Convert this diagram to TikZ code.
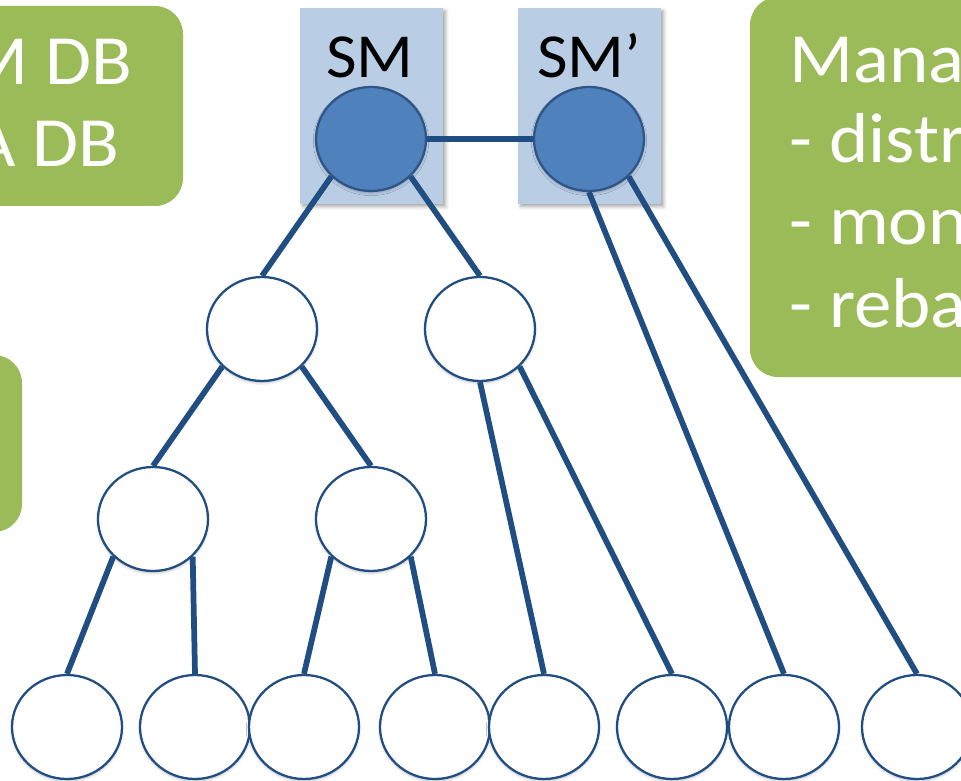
\documentclass[tikz,border=0pt]{standalone}
\usepackage{fontspec}
\setmainfont{Carlito}[FakeStretch=1.06]
\usetikzlibrary{shapes.geometric,shadows.blur}

\definecolor{boxgreen}{HTML}{9BBB59}
\definecolor{smblue}{HTML}{B9CDE5}
\definecolor{nodefill}{HTML}{4F81BD}
\definecolor{nodeline}{HTML}{2F5486}
\definecolor{edgecol}{HTML}{214E82}

\begin{document}
\begin{tikzpicture}[x=0.75pt,y=-0.75pt,
  note/.style={fill=boxgreen, rounded corners=21pt},
  smbox/.style={fill=smblue, blur shadow={shadow xshift=2pt, shadow yshift=-2pt,
      shadow blur radius=2.5pt, shadow opacity=35}},
  treenode/.style={ellipse, minimum width=82.5pt, minimum height=78pt, inner sep=0pt,
      draw=edgecol, line width=1.7pt, fill=white,
      blur shadow={shadow xshift=0pt, shadow yshift=-1.5pt, shadow blur radius=2pt,
      shadow opacity=25}},
  master/.style={treenode, fill=nodefill, draw=nodeline},
  edge/.style={draw=edgecol, line width=4.3pt},
  bigtext/.style={font=\fontsize{53}{60}\selectfont, text=white, inner sep=0pt},
  smtext/.style={font=\fontsize{47}{54}\selectfont, inner sep=0pt}
]
\useasboundingbox (0,0) rectangle (961,781);
\clip (0,0) rectangle (961,781);

% green note boxes
\fill[note] (-60,6) rectangle (183,206);
\fill[note] (-60,355) rectangle (22,532);
\fill[note] (750,-3) rectangle (1020,377);

\node[bigtext, anchor=base east] (ldb1) at (133,85) {M DB};
\node[bigtext, anchor=base east] (ldb2) at (120,167) {A DB};

\node[bigtext, anchor=base west] (r1) at (789,83) {Mana};
\node[bigtext, anchor=base west] (r2) at (789,163) {- distr};
\node[bigtext, anchor=base west] (r3) at (789,245) {- mon};
\node[bigtext, anchor=base west] (r4) at (789,327) {- reba};

% shard-master boxes
\fill[smbox] (300,8) rectangle (443,204);
\fill[smbox] (518,8) rectangle (661,204);
\node[smtext, anchor=base] (smlab) at (370,78) {SM};
\node[smtext, anchor=base] (smplab) at (589,78) {SM’};

% masters
\node[master] (sm) at (371,139) {};
\node[master] (smp) at (589,139) {};

% tree nodes
\node[treenode] (a) at (262,329) {};
\node[treenode] (b) at (480,329) {};
\node[treenode] (c) at (153,519) {};
\node[treenode] (d) at (371,519) {};

\node[treenode] (l1) at (67,727) {};
\node[treenode] (l2) at (195,727) {};
\node[treenode] (l3) at (304,727) {};
\node[treenode] (l4) at (435,727) {};
\node[treenode] (l5) at (544,727) {};
\node[treenode] (l6) at (672,727) {};
\node[treenode] (l7) at (784,727) {};
\node[treenode] (l8) at (917,727) {};

% connectors
\draw[edge] (sm.east) -- (smp.west);
\draw[edge] (sm.south west) -- (a.north);
\draw[edge] (sm.south east) -- (b.north);
\draw[edge] (a.south west) -- (c.north);
\draw[edge] (a.south east) -- (d.north);
\draw[edge] (c.south west) -- (l1.north);
\draw[edge] (c.south east) -- (l2.north);
\draw[edge] (d.south west) -- (l3.north);
\draw[edge] (d.south east) -- (l4.north);
\draw[edge] (b.south) -- (l5.north);
\draw[edge] (b.south east) -- (l6.north);
\draw[edge] (smp.south) -- (l7.north);
\draw[edge] (smp.south east) -- (l8.north);
\end{tikzpicture}
\end{document}
